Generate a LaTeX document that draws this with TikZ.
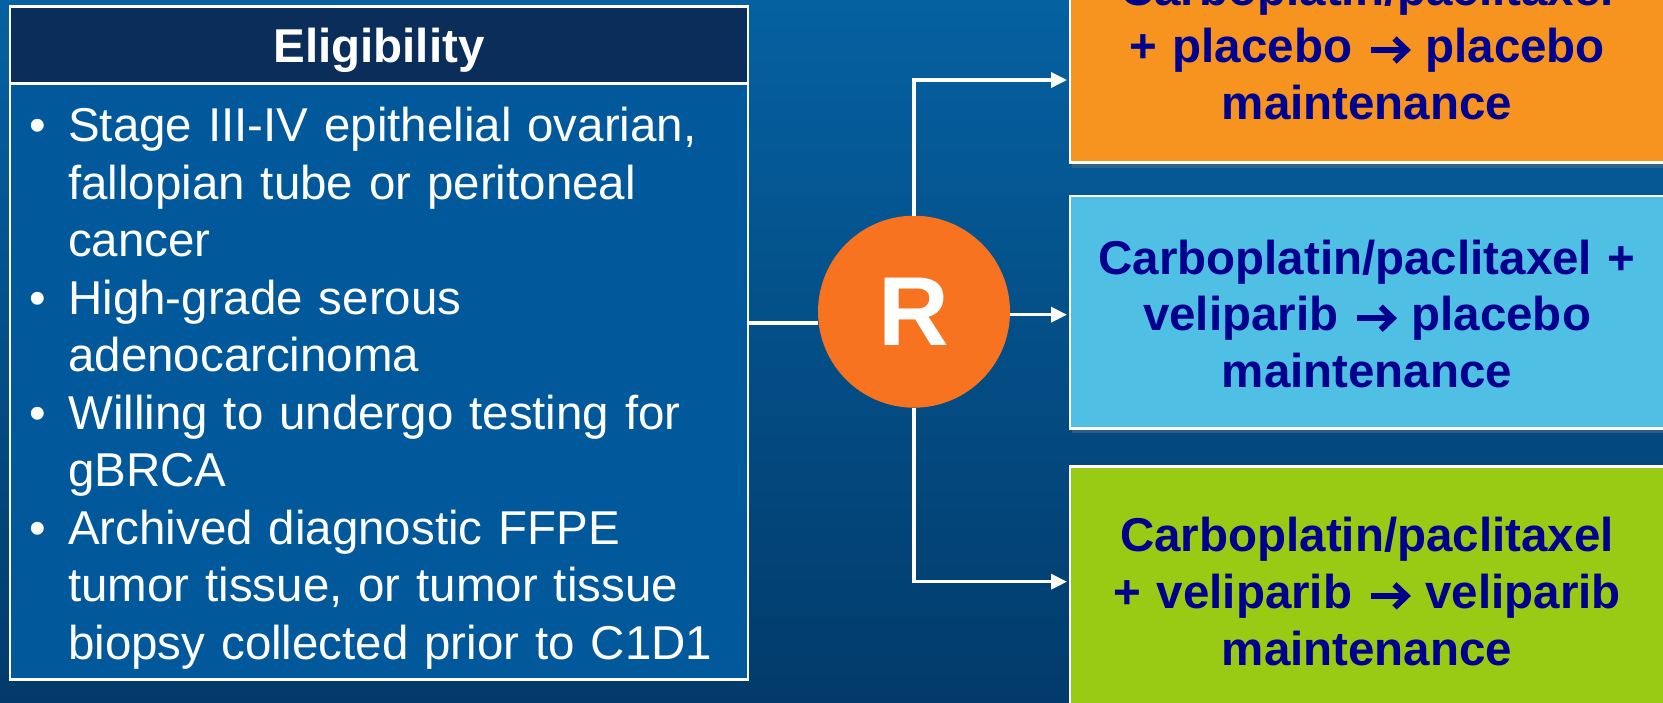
\documentclass[tikz,border=0pt]{standalone}
\usepackage{fontspec}
\setmainfont{Liberation Sans}
\usetikzlibrary{arrows.meta,shadows}

\definecolor{bgtop}{HTML}{0561A1}
\definecolor{bgbot}{HTML}{023B6B}
\definecolor{hdrnavy}{HTML}{0B2D5A}
\definecolor{bodyblue}{HTML}{01589A}
\definecolor{armorange}{HTML}{F7941F}
\definecolor{armblue}{HTML}{4FC0E4}
\definecolor{armgreen}{HTML}{9ACB14}
\definecolor{rorange}{HTML}{F77320}
\definecolor{armtext}{HTML}{00008F}

% bold chevron arrow used inside the treatment-arm texts
\newcommand{\thenarrow}{\tikz[baseline=0pt,x=1pt,y=1pt]{%
  \draw[draw=armtext, line width=6pt] (0,12.5) -- (35,12.5);
  \draw[draw=armtext, line width=6pt, line join=miter, miter limit=10]
    (23.5,1) -- (35.5,12.5) -- (23.5,24);}}
% bullet hung to the left of an item's first line
\newcommand{\bul}{\leavevmode\llap{\textbullet\hspace{22.5pt}}}

\begin{document}
\begin{tikzpicture}[x=1pt,y=-1pt,
  whiteedge/.style={draw=white, line width=2.8pt},
  hdrbox/.style={whiteedge, fill=hdrnavy, rectangle, inner sep=0pt},
  bodybox/.style={whiteedge, fill=bodyblue, rectangle, inner sep=0pt},
  hdrtxt/.style={text=white, font=\fontsize{47.5}{56}\selectfont\bfseries, inner sep=0pt},
  itemtxt/.style={text=white, font=\fontsize{47.5}{57.5}\selectfont, inner sep=0pt,
    text width=675pt, align=left},
  armbox/.style={whiteedge, rectangle, inner sep=0pt, minimum width=598pt,
    drop shadow={opacity=0.35, shadow xshift=2pt, shadow yshift=-5pt}},
  armtxt/.style={text=armtext, font=\fontsize{47.5}{56.7}\selectfont\bfseries,
    inner sep=0pt, text width=590pt, align=center},
  rnode/.style={circle, fill=rorange, minimum size=192pt, inner sep=0pt,
    text=white, font=\fontsize{98}{98}\selectfont\bfseries},
  conn/.style={draw=white, line width=3.5pt},
  arr/.style={conn, -{Triangle[length=16pt,width=15pt]}, shorten >=3pt}
]
\useasboundingbox (0,0) rectangle (1663,702);
\clip (0,0) rectangle (1663,702);
\shade[top color=bgtop, bottom color=bgbot] (0,0) rectangle (1663,702);

% eligibility panel
\node[bodybox, minimum width=738pt, minimum height=596pt] (body) at (379,381.3) {};
\node[hdrbox, minimum width=738pt, minimum height=76.8pt] (hdr) at (379,44.9) {};
\node[hdrtxt] (hdrlabel) at (379,50.5) {Eligibility};
\node[itemtxt, anchor=base west] (items) at (68,141.5) {%
\bul Stage III-IV epithelial ovarian,\\
fallopian tube or peritoneal\\
cancer\\
\bul High-grade serous\\
adenocarcinoma\\
\bul Willing to undergo testing for\\
gBRCA\\
\bul Archived diagnostic FFPE\\
tumor tissue, or tumor tissue\\
biopsy collected prior to C1D1};

% treatment arms
\node[armbox, fill=armorange, minimum height=225.4pt] (arm1) at (1369,50) {};
\node[armbox, fill=armblue, minimum height=232.3pt] (arm2) at (1369,312.2) {};
\node[armbox, fill=armgreen, minimum height=254.6pt] (arm3) at (1369,594) {};

\node[armtxt, anchor=base] (arm1txt) at (1367,5.8)
  {Carboplatin/paclitaxel\\+ placebo \thenarrow{} placebo\\maintenance};
\node[armtxt, anchor=base] (arm2txt) at (1367,274)
  {Carboplatin/paclitaxel +\\veliparib \thenarrow{} placebo\\maintenance};
\node[armtxt, anchor=base] (arm3txt) at (1367,551.7)
  {Carboplatin/paclitaxel\\+ veliparib \thenarrow{} veliparib\\maintenance};

% randomisation
\node[rnode] (R) at (914,311.7) {R};

\coordinate (split) at (748,323);
\coordinate (in1) at (1070,80);
\coordinate (in2) at (1070,314.7);
\coordinate (in3) at (1070,581.7);

\draw[conn] (split) -- (split -| R.west);
\draw[arr] (R.north) |- (in1);
\draw[arr] (in2 -| R.east) -- (in2);
\draw[arr] (R.south) |- (in3);
\end{tikzpicture}
\end{document}
